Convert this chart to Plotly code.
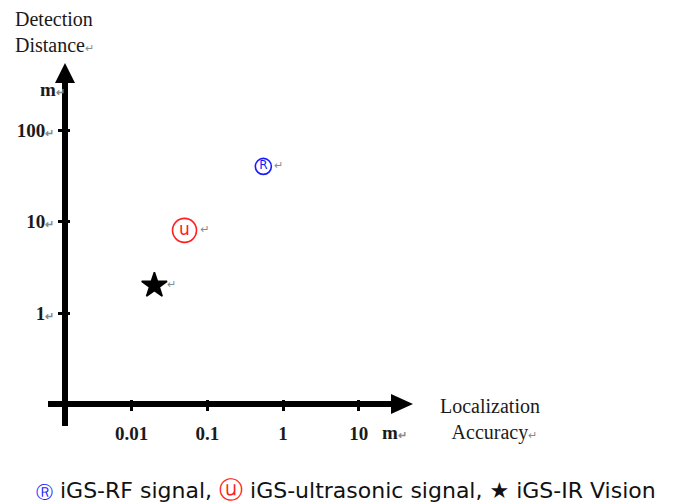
import plotly.graph_objects as go

# ---- data ----
categories = ["iGS-RF signal", "iGS-ultrasonic signal", "iGS-IR Vision"]
accuracy_m = [0.55, 0.05, 0.02]      # Localization accuracy (m)
distance_m = [40, 8, 2]              # Detection distance (m)
x_tickvals = [0.01, 0.1, 1, 10]
x_ticktext = ["0.01", "0.1", "1", "10"]
y_tickvals = [1, 10, 100]
y_ticktext = ["1", "10", "100"]

# ---- layout geometry (pixels) ----
FW, FH = 678, 504
L, R, T, B = 48, 392, 83, 426
W, H = R - L, B - T


def px(x):
    return (x - L) / W


def py(y):
    return (B - y) / H


X0, XDEC = 283.0, 75.7
Y0, YDEC = 313.0, 91.5
xrange_ = [(L - X0) / XDEC, (R - X0) / XDEC]
yrange_ = [(Y0 - B) / YDEC, (Y0 - T) / YDEC]

SERIF = "Liberation Serif, Times New Roman, serif"
RET = "<span style='font-size:11px;color:#8a8a8a'>↵</span>"

fig = go.Figure()

styles = [
    dict(color="#1a1aff", size=16, letter="R", lsize=12, symbol="circle-open"),
    dict(color="#ff2020", size=24, letter="u", lsize=17, symbol="circle-open"),
    dict(color="black", size=19, letter="", lsize=12, symbol="star"),
]
for i in range(3):
    s = styles[i]
    fig.add_trace(go.Scatter(
        x=[accuracy_m[i]], y=[distance_m[i]], mode="markers+text",
        marker=dict(symbol=s["symbol"], size=s["size"], color=s["color"],
                    line=dict(width=1.6, color=s["color"])),
        text=["↵"], textposition="middle right",
        textfont=dict(family="DejaVu Sans", size=11, color="#8a8a8a"),
        name=categories[i], showlegend=False, cliponaxis=False))
    if s["letter"]:
        fig.add_trace(go.Scatter(
            x=[accuracy_m[i]], y=[distance_m[i]], mode="text",
            text=[s["letter"]], textposition="middle center",
            textfont=dict(family="DejaVu Sans", size=s["lsize"], color=s["color"]),
            showlegend=False, hoverinfo="skip", cliponaxis=False))

# invisible trace for overlay axis (inner ticks)
fig.add_trace(go.Scatter(x=[1], y=[1], xaxis="x2", yaxis="y2", mode="markers",
                         marker=dict(opacity=0), showlegend=False, hoverinfo="skip"))

common_axis = dict(showgrid=False, zeroline=False, anchor="free")
fig.update_layout(
    width=FW, height=FH,
    margin=dict(l=L, r=FW - R, t=T, b=FH - B),
    paper_bgcolor="white", plot_bgcolor="white",
    xaxis=dict(type="log", range=xrange_, position=py(404), showline=True,
               linewidth=6, linecolor="black", ticks="outside", ticklen=4,
               tickwidth=2.5, tickcolor="black", tickvals=x_tickvals,
               ticktext=x_ticktext, ticklabelstandoff=6,
               tickfont=dict(family=SERIF, size=19, color="#1a1a1a", weight="bold"),
               **common_axis),
    yaxis=dict(type="log", range=yrange_, position=px(65), showline=True,
               linewidth=6, linecolor="black", ticks="outside", ticklen=4,
               tickwidth=2.5, tickcolor="black", tickvals=y_tickvals,
               ticktext=[t + RET for t in y_ticktext],
               tickfont=dict(family=SERIF, size=19, color="#1a1a1a", weight="bold"),
               **common_axis),
    xaxis2=dict(type="log", range=xrange_, overlaying="x", position=py(404),
                showline=False, ticks="inside", ticklen=4, tickwidth=2.5,
                tickcolor="black", tickvals=x_tickvals, showticklabels=False,
                **common_axis),
    yaxis2=dict(type="log", range=yrange_, overlaying="y", position=px(65),
                showline=False, ticks="inside", ticklen=4, tickwidth=2.5,
                tickcolor="black", tickvals=y_tickvals, showticklabels=False,
                **common_axis),
)

# arrow heads
fig.add_shape(type="path", xref="paper", yref="paper", line_width=0,
              fillcolor="black",
              path=f"M {px(55)},{py(83)} L {px(75)},{py(83)} L {px(65)},{py(63)} Z")
fig.add_shape(type="path", xref="paper", yref="paper", line_width=0,
              fillcolor="black",
              path=f"M {px(391)},{py(394)} L {px(391)},{py(414)} L {px(413)},{py(404)} Z")

# axis titles / units
fig.add_annotation(xref="paper", yref="paper", x=px(13), y=py(6),
                   xanchor="left", yanchor="top", align="left", showarrow=False,
                   text="Detection<br>Distance" + RET,
                   font=dict(family=SERIF, size=20, color="#1a1a1a"))
fig.add_annotation(xref="paper", yref="paper", x=px(490), y=py(419),
                   xanchor="center", yanchor="middle", align="center", showarrow=False,
                   text="Localization<br>  Accuracy" + RET,
                   font=dict(family=SERIF, size=20, color="#1a1a1a"))
fig.add_annotation(xref="paper", yref="paper", x=px(52), y=py(89),
                   xanchor="center", yanchor="middle", showarrow=False,
                   text="m" + RET,
                   font=dict(family=SERIF, size=19, color="#1a1a1a", weight="bold"))
fig.add_annotation(xref="paper", yref="paper", x=px(394), y=py(432),
                   xanchor="center", yanchor="middle", showarrow=False,
                   text="m" + RET,
                   font=dict(family=SERIF, size=19, color="#1a1a1a", weight="bold"))

# legend text
legend_txt = (
    "<span style='color:#1a1aff;font-size:17px'>Ⓡ</span> " + categories[0] + ", "
    "<span style='color:#ff2020;font-size:24px'>ⓤ</span> " + categories[1] + ", "
    "★ " + categories[2]
)
fig.add_annotation(xref="paper", yref="paper", x=px(346), y=py(490),
                   xanchor="center", yanchor="middle", showarrow=False,
                   text=legend_txt,
                   font=dict(family="DejaVu Sans", size=22, color="#111"))

fig.write_html("out.html", post_script="document.body.style.margin='0px';",
               config={"displayModeBar": False})
